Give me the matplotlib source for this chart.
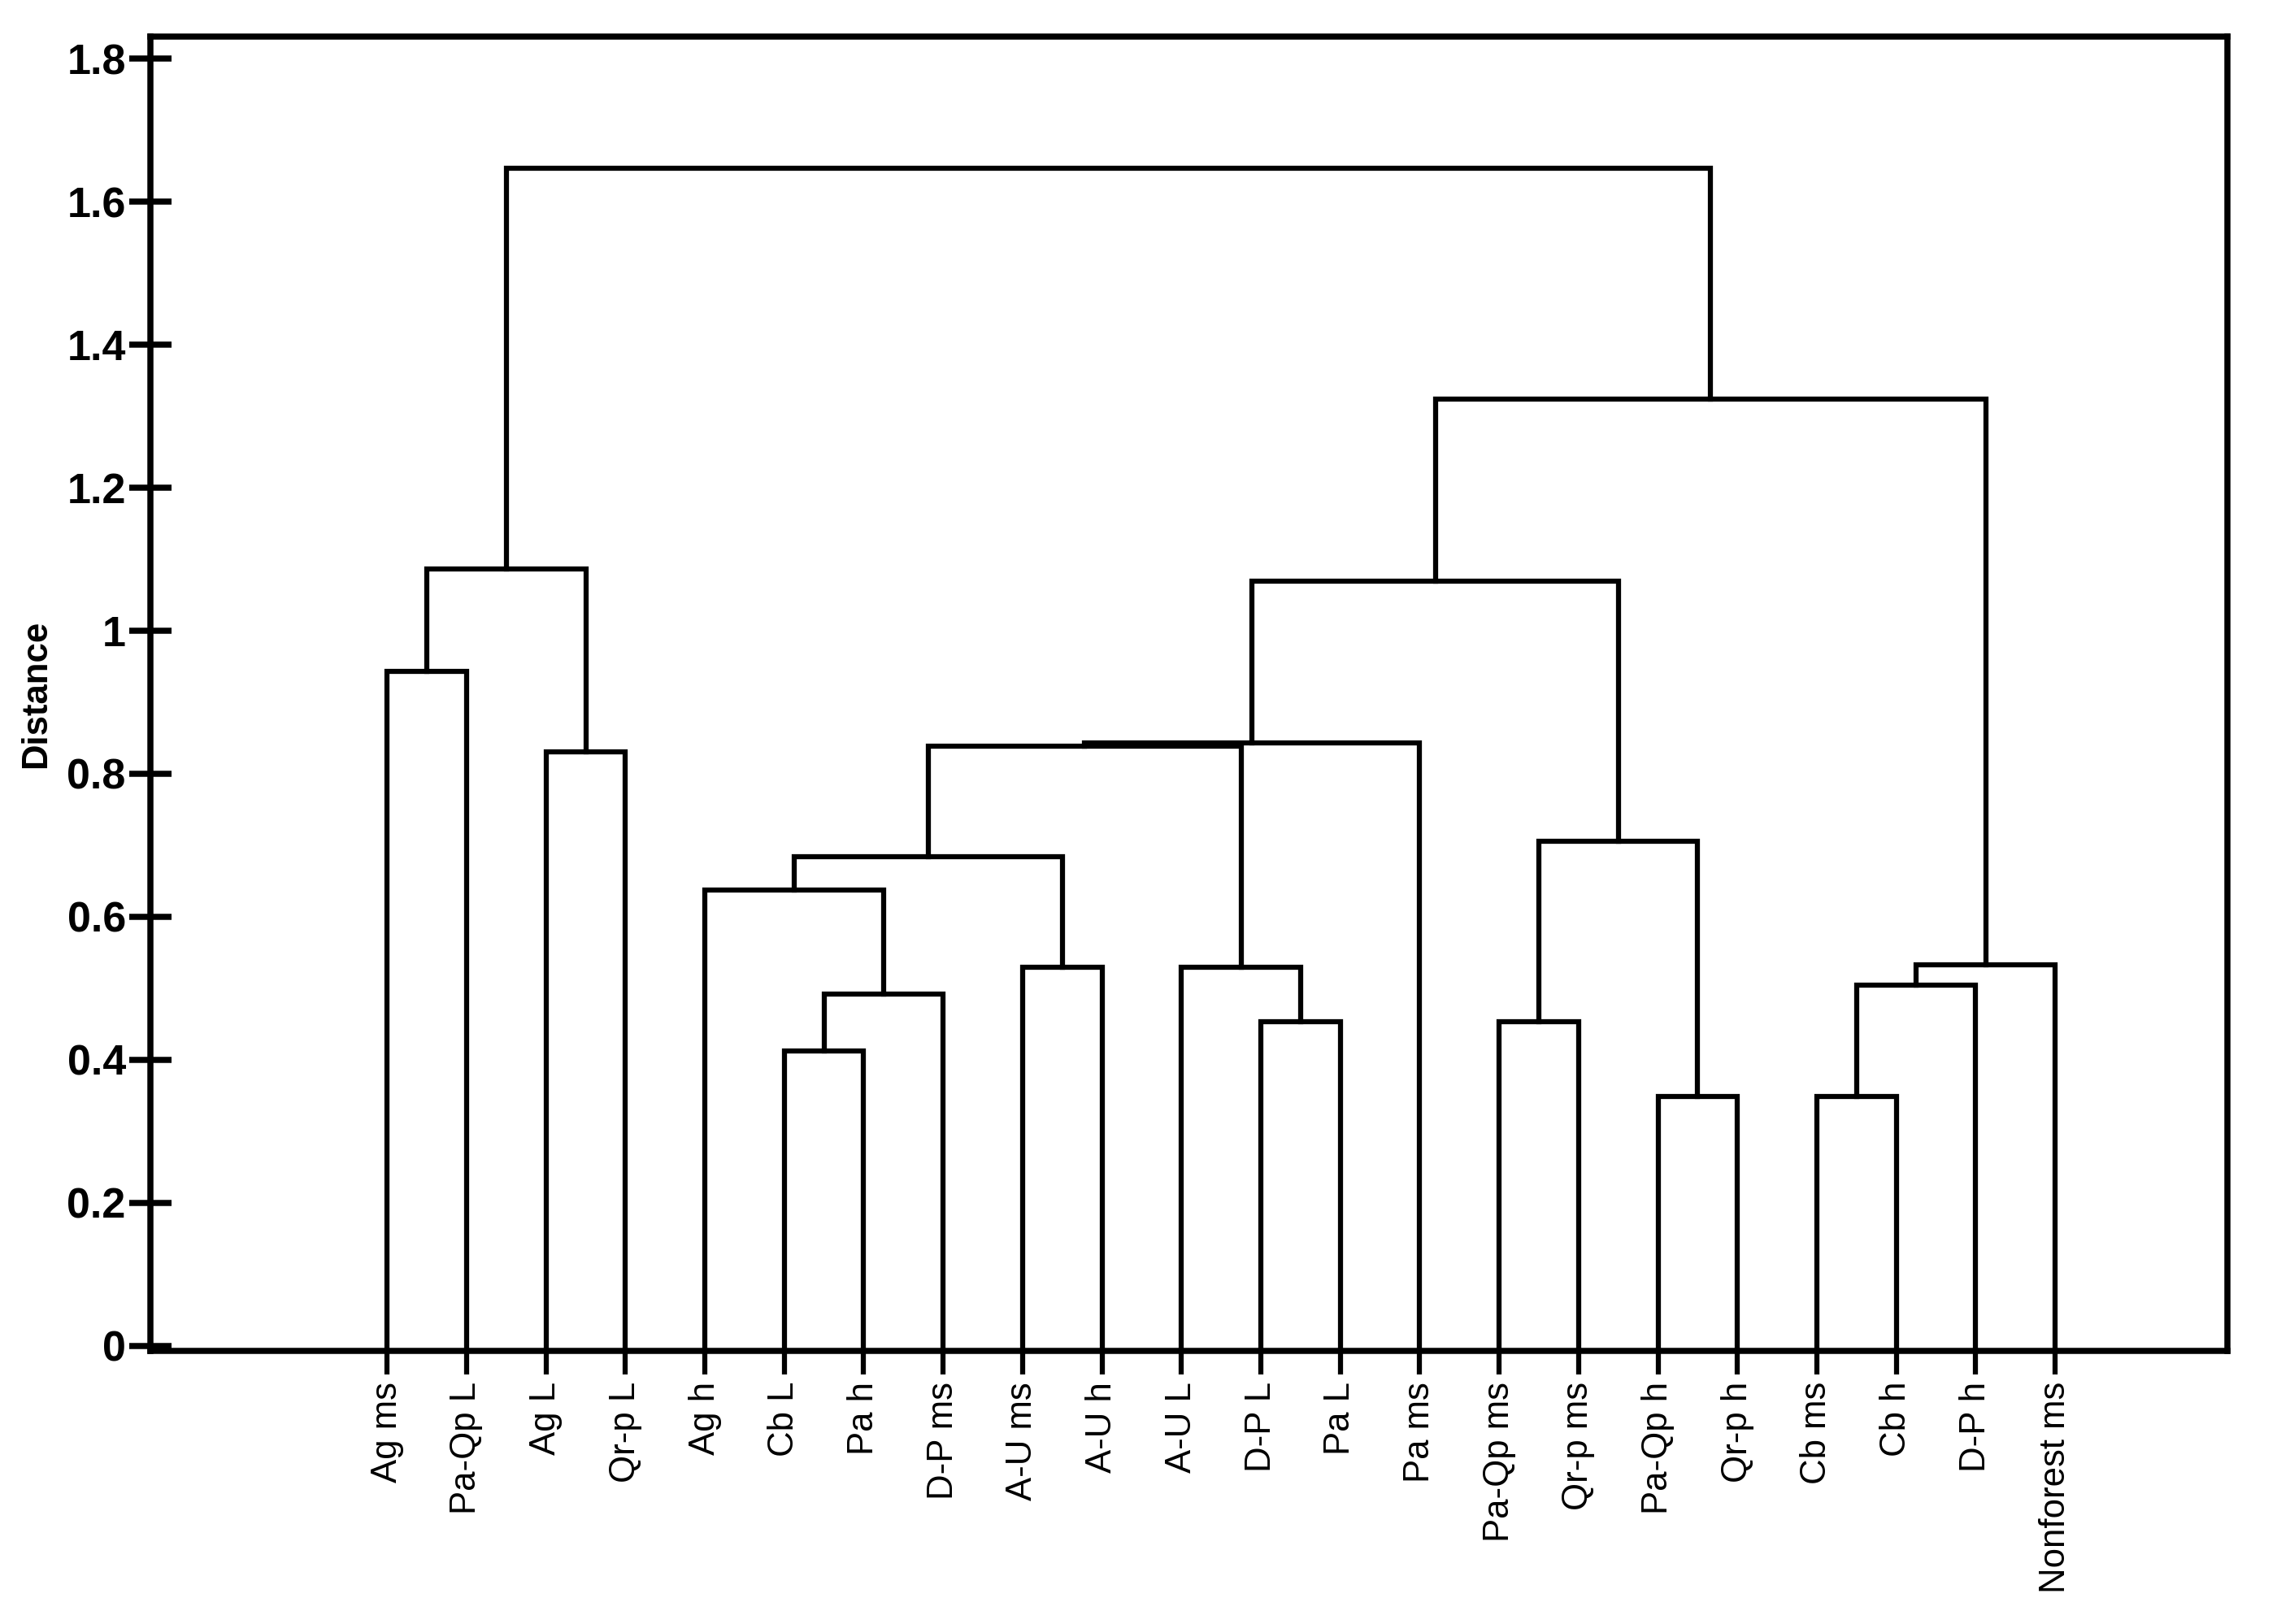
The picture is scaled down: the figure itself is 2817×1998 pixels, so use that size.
import matplotlib

matplotlib.use("Agg")
import matplotlib.pyplot as plt

# leaves in plotted order (left to right)
LEAVES = [
    "Ag ms", "Pa-Qp L", "Ag L", "Qr-p L", "Ag h", "Cb L", "Pa h", "D-P ms",
    "A-U ms", "A-U h", "A-U L", "D-P L", "Pa L", "Pa ms", "Pa-Qp ms",
    "Qr-p ms", "Pa-Qp h", "Qr-p h", "Cb ms", "Cb h", "D-P h", "Nonforest ms",
]

# merges: (child a, child b, distance); ids >= 22 refer to earlier merges (22 + k)
MERGE_A = [0, 2, 22, 5, 25, 4, 8, 27, 11, 10, 29, 32, 14, 16, 34, 33, 18, 38, 39, 37, 24]
MERGE_B = [1, 3, 23, 6, 7, 26, 9, 28, 12, 30, 31, 13, 15, 17, 35, 36, 19, 20, 21, 40, 41]
MERGE_H = [0.943, 0.831, 1.086, 0.412, 0.492, 0.637, 0.529, 0.684, 0.453, 0.529,
           0.839, 0.843, 0.453, 0.349, 0.706, 1.069, 0.349, 0.504, 0.533, 1.324, 1.647]

YTICKS = [0, 0.2, 0.4, 0.6, 0.8, 1.0, 1.2, 1.4, 1.6, 1.8]
YTICK_LABELS = ["0", "0.2", "0.4", "0.6", "0.8", "1", "1.2", "1.4", "1.6", "1.8"]


def main():
    plt.rcParams["font.family"] = ["Liberation Sans", "DejaVu Sans"]
    fig = plt.figure(figsize=(2817 / 300, 1998 / 300), dpi=300)
    ax = fig.add_axes([0.0657, 0.168, 0.907, 0.8095])

    n = len(LEAVES)
    xpos = {i: float(i) for i in range(n)}
    ypos = {i: 0.0 for i in range(n)}
    for k, (a, b, h) in enumerate(zip(MERGE_A, MERGE_B, MERGE_H)):
        xa, xb = xpos[a], xpos[b]
        ax.plot([xa, xa, xb, xb], [ypos[a], h, h, ypos[b]],
                color="black", lw=1.5, solid_joinstyle="miter", solid_capstyle="projecting")
        xpos[n + k] = (xa + xb) / 2
        ypos[n + k] = h

    ax.set_xlim(-2.98, 23.17)
    ax.set_ylim(-0.0075, 1.831)

    ax.set_xticks(range(n))
    ax.set_xticklabels(LEAVES, rotation=90, fontsize=10.5)
    ax.set_yticks(YTICKS)
    ax.set_yticklabels(YTICK_LABELS, fontsize=12.5, fontweight="bold")
    ax.tick_params(axis="x", direction="out", length=7, width=1.5, pad=2)
    ax.tick_params(axis="y", direction="inout", length=12.5, width=1.8, pad=1)

    for s in ax.spines.values():
        s.set_linewidth(1.8)

    ax.set_ylabel("Distance", fontsize=10.5, fontweight="bold")
    ax.yaxis.set_label_coords(-0.047, 0.5)

    fig.savefig("out.png", dpi=300)


if __name__ == "__main__":
    main()
